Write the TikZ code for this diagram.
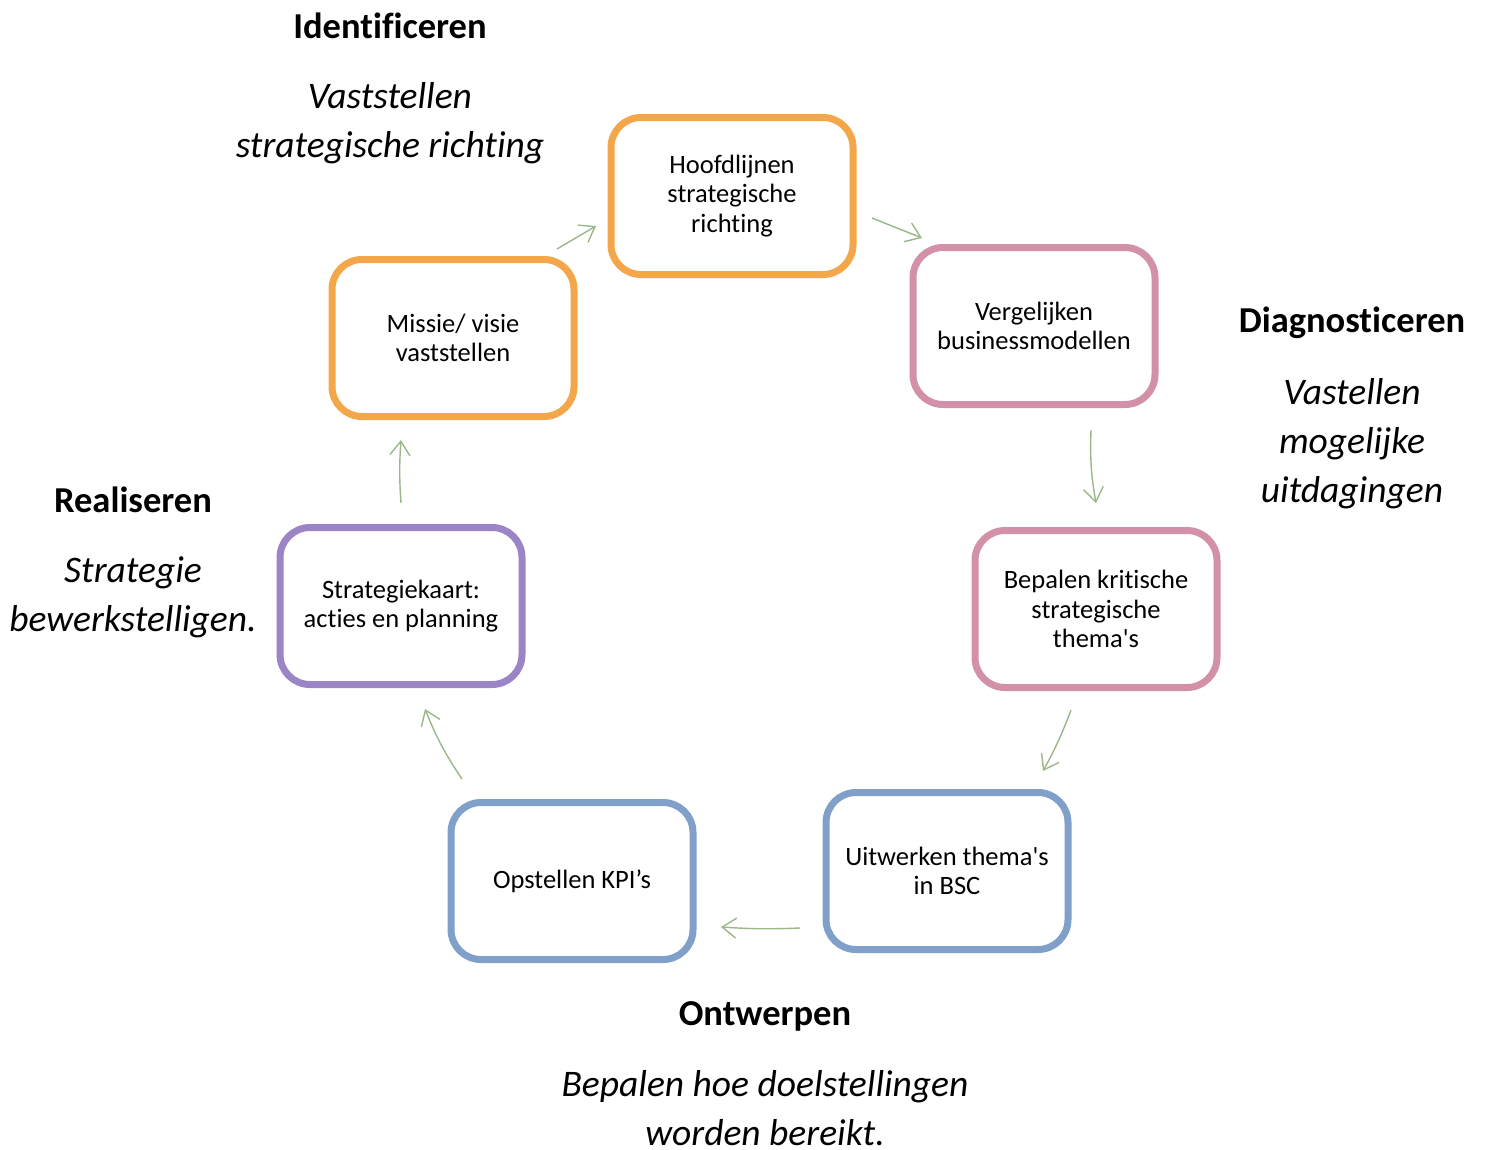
\documentclass[tikz,border=0pt]{standalone}
\usepackage{fontspec}
\setmainfont{Carlito}[Ligatures={NoCommon}]
\usetikzlibrary{arrows.meta}
\definecolor{corange}{RGB}{244,166,74}
\definecolor{cpink}{RGB}{210,145,168}
\definecolor{cpurple}{RGB}{155,133,198}
\definecolor{cblue}{RGB}{128,160,201}
\definecolor{carrow}{RGB}{155,183,138}
\begin{document}
\begin{tikzpicture}[x=1pt,y=-1pt,
  box/.style={draw, line width=7pt, rounded corners=30pt, minimum width=242pt, minimum height=157pt,
    align=center, inner sep=0pt, font=\fontsize{26.5}{29.5}\selectfont},
  head/.style={font=\fontsize{36.5}{44}\selectfont\bfseries, inner sep=0pt},
  sub/.style={font=\fontsize{37.5}{49}\selectfont\itshape, align=center, inner sep=0pt},
  conn/.style={draw=carrow, line width=1.4pt, -{Straight Barb[length=14pt,width=20pt,line width=1.4pt]}}]
\useasboundingbox (0,0) rectangle (1486,1149);
% boxes
\node[box, draw=corange] (b1) at (732,196) {Hoofdlijnen\\strategische\\richting};
\node[box, draw=cpink] (b2) at (1034,326) {Vergelijken\\businessmodellen};
\node[box, draw=cpink] (b3) at (1096,609) {Bepalen kritische\\strategische\\thema\textquotesingle s};
\node[box, draw=cblue] (b4) at (947,871) {Uitwerken thema\textquotesingle s\\in BSC};
\node[box, draw=cblue] (b5) at (572,881) {Opstellen KPI’s};
\node[box, draw=cpurple] (b6) at (401,606) {Strategiekaart:\\acties en planning};
\node[box, draw=corange] (b7) at (453,338) {Missie/ visie\\vaststellen};
% labels
\node[head] (h1) at (390,26) {Identificeren};
\node[sub] (s1) at (390,123) {Vaststellen\\strategische richting};
\node[head] (h2) at (1352,323) {Diagnosticeren};
\node[sub] (s2) at (1352,444) {Vastellen\\mogelijke\\uitdagingen};
\node[head] (h3) at (133,500) {Realiseren};
\node[sub] (s3) at (133,597) {Strategie\\bewerkstelligen.};
\node[head] (h4) at (765,1016) {Ontwerpen};
\node[sub] (s4) at (765,1108) {Bepalen hoe doelstellingen\\worden bereikt.};
% arrow end points
\coordinate (a1s) at (557,249); \coordinate (a1e) at (596,226);
\coordinate (a2s) at (872,218); \coordinate (a2e) at (922,238);
\coordinate (a3s) at (1091,430); \coordinate (a3e) at (1096,503);
\coordinate (a4s) at (1071,710); \coordinate (a4e) at (1043,771);
\coordinate (a5s) at (800,928); \coordinate (a5e) at (721,927);
\coordinate (a6s) at (462,779); \coordinate (a6e) at (425,709);
\coordinate (a7s) at (401,503); \coordinate (a7e) at (401,440);
\draw[conn] (a1s) -- (a1e);
\draw[conn] (a2s) -- (a2e);
\draw[conn] (a3s) to[bend right=6] (a3e);
\draw[conn] (a4s) to[bend left=4] (a4e);
\draw[conn] (a5s) to[bend left=3] (a5e);
\draw[conn] (a6s) to[bend left=6] (a6e);
\draw[conn] (a7s) to[bend left=4] (a7e);
\end{tikzpicture}
\end{document}
